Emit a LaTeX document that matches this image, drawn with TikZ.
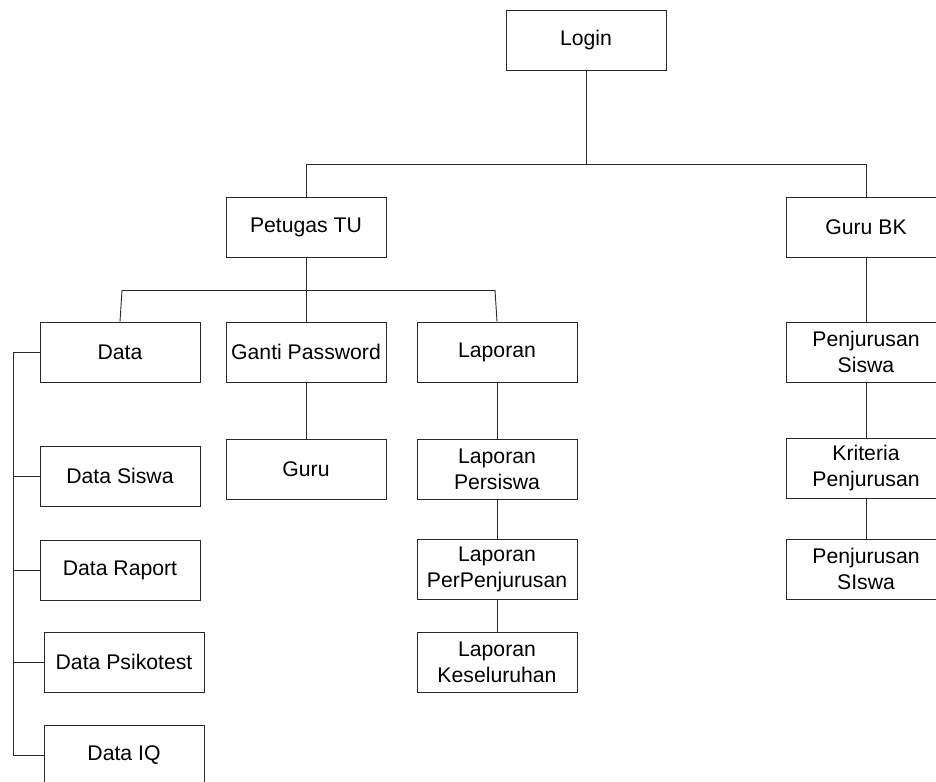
\documentclass[tikz,border=0pt]{standalone}
\usepackage{fontspec}
\setmainfont{Liberation Sans}
\usepackage{tikz}
\definecolor{boxline}{RGB}{40,40,40}

\begin{document}
\begin{tikzpicture}[x=1pt,y=-1pt,line width=0.9pt,draw=boxline,
  every node/.style={font=\fontsize{21.2}{26}\selectfont},
  menubox/.style={draw=boxline,line width=0.9pt,minimum width=160pt,
    minimum height=60pt,align=center,inner sep=0pt}]
  \useasboundingbox (0,0) rectangle (936,781);
  % top level
  \node[menubox] (login) at (586,40) {Login};
  \node[menubox] (petugas) at (306,227) {Petugas TU};
  \node[menubox] (gurubk) at (866,227) {Guru BK};
  % petugas TU menu
  \node[menubox] (data) at (120,352) {Data};
  \node[menubox] (ganti) at (306,352) {Ganti Password};
  \node[menubox] (laporan) at (497,352) {Laporan};
  \node[menubox] (guru) at (306,469) {Guru};
  \node[menubox] (lapsiswa) at (497,469) {Laporan\\Persiswa};
  \node[menubox] (lapjurusan) at (497,569) {Laporan\\PerPenjurusan};
  \node[menubox] (lapsemua) at (497,662) {Laporan\\Keseluruhan};
  \node[menubox] (datasiswa) at (120,476) {Data Siswa};
  \node[menubox] (dataraport) at (120,570) {Data Raport};
  \node[menubox] (datapsiko) at (124,662) {Data Psikotest};
  \node[menubox] (dataiq) at (124,755) {Data IQ};
  % guru BK menu
  \node[menubox] (jursiswa) at (866,352) {Penjurusan\\Siswa};
  \node[menubox] (kriteria) at (866,468) {Kriteria\\Penjurusan};
  \node[menubox] (jurhasil) at (866,569) {Penjurusan\\SIswa};

  \coordinate (bus1) at (586,164);
  \coordinate (datatop) at (122,290);
  \coordinate (laptop) at (495,290);
  \coordinate (spinetop) at (13,352);

  \draw (login.south) -- (bus1) -| (petugas.north);
  \draw (bus1) -| (gurubk.north);
  \draw (petugas.south) -- (ganti.north);
  \draw (datatop) -- (laptop);
  \draw (datatop) -- (data.north);
  \draw (laptop) -- (laporan.north);
  \draw (ganti) -- (guru);
  \draw (laporan) -- (lapsiswa) -- (lapjurusan) -- (lapsemua);
  \draw (gurubk) -- (jursiswa) -- (kriteria) -- (jurhasil);
  \draw (data.west) -- (spinetop) |- (dataiq.west);
  \foreach \n in {datasiswa,dataraport,datapsiko}
    \draw (\n.west) -- (\n.west -| spinetop);
\end{tikzpicture}
\end{document}
